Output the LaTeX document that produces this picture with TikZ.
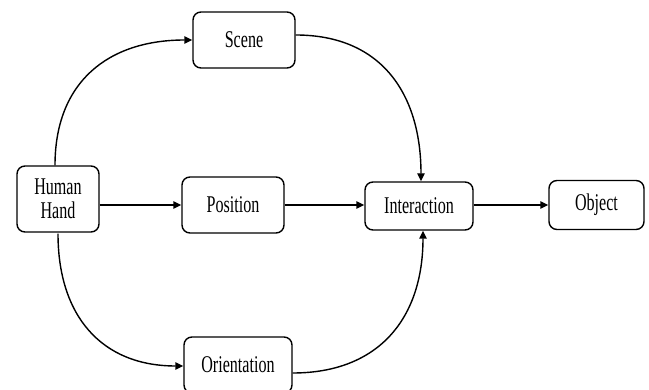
\documentclass[tikz,border=0pt]{standalone}
\usepackage{fontspec}
\setmainfont{Liberation Serif}[FakeStretch=0.67]
\usetikzlibrary{arrows.meta}
\begin{document}
\begin{tikzpicture}[x=1pt,y=1pt,
  box/.style={draw=black, line width=1.4pt, rounded corners=8pt, align=center,
    font=\fontsize{24}{24}\selectfont, inner sep=0pt},
  conn/.style={line width=1.4pt, -{Triangle[length=8pt,width=7.5pt]}}]
\useasboundingbox (0,0) rectangle (649,390);
\node[box, minimum width=82pt, minimum height=66pt] (hand) at (58,191) {Human\\Hand};
\node[box, minimum width=102pt, minimum height=56pt] (scene) at (244,350) {Scene};
\node[box, minimum width=102pt, minimum height=56pt] (pos) at (233,185) {Position};
\node[box, minimum width=108pt, minimum height=48pt] (inter) at (419,184) {Interaction};
\node[box, minimum width=95pt, minimum height=49pt] (obj) at (596.5,185) {Object};
\node[box, minimum width=108pt, minimum height=56pt] (orient) at (238,25) {Orientation};
\draw[conn] ([xshift=-3pt]hand.north) to[out=90,in=180,looseness=1.15] (scene.west);
\draw[conn] ([yshift=-1pt]hand.south) to[out=-90,in=180,looseness=1.15] ([yshift=-1pt]orient.west);
\draw[conn] ([yshift=5pt]scene.east) to[out=0,in=90,looseness=1.15] ([xshift=2pt]inter.north);
\draw[conn] ([yshift=-8pt]orient.east) to[out=0,in=-90,looseness=1.15] ([xshift=4pt]inter.south);
\draw[conn] (hand.east |- pos.west) -- (pos.west);
\draw[conn] (pos.east) -- (pos.east -| inter.west);
\draw[conn] (inter.east |- obj.west) -- (obj.west);
\end{tikzpicture}
\end{document}
